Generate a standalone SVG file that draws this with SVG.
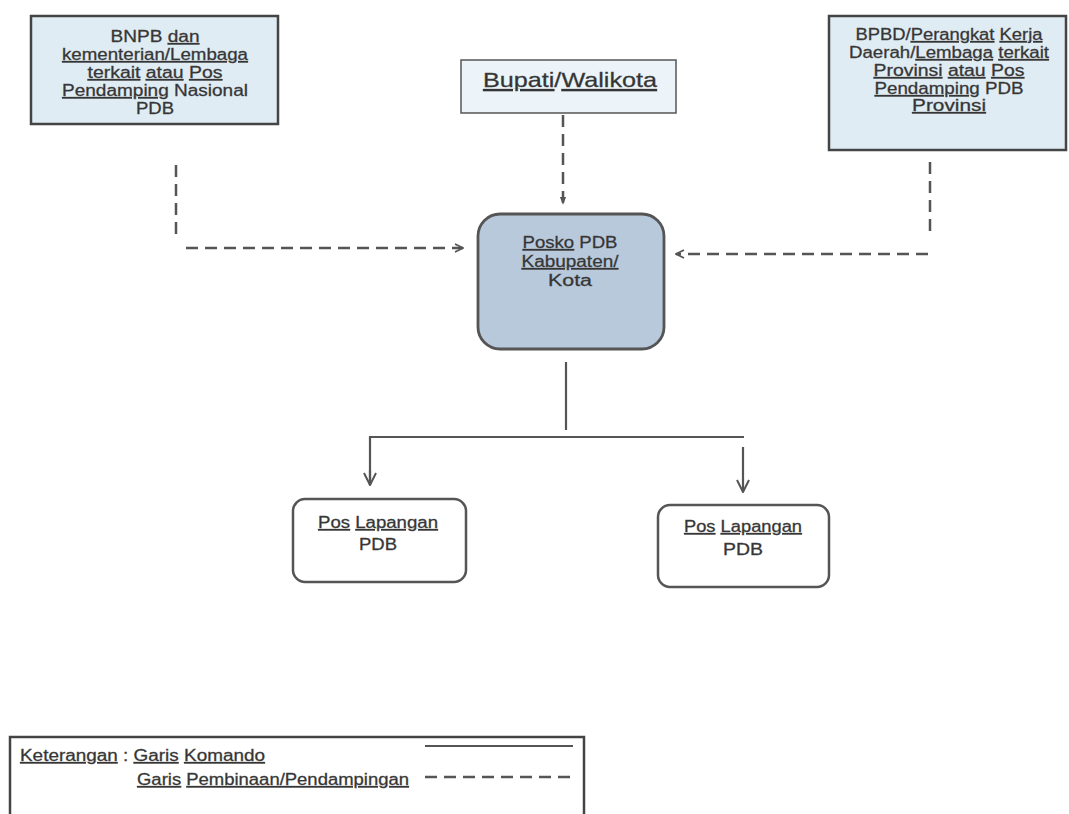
<svg xmlns="http://www.w3.org/2000/svg" width="1069" height="814" viewBox="0 0 1069 814">
<defs>
<style>
text{font-family:"Liberation Sans",Arial,sans-serif;fill:#333;stroke:#444;stroke-width:0.3;text-anchor:middle;font-size:16px}
.u{text-decoration:underline}
.bx{fill:#e0ecf3;stroke:#444;stroke-width:2.5}
.rb{fill:#fff;stroke:#555;stroke-width:2.5}
.d{fill:none;stroke:#555;stroke-width:2.5;stroke-dasharray:12 7}
.s{fill:none;stroke:#555;stroke-width:2.2}
</style>
<marker id="chev" viewBox="0 0 10 10" refX="9" refY="5" markerWidth="10" markerHeight="10" markerUnits="userSpaceOnUse" orient="auto">
<path d="M1,1 L9,5 L1,9" fill="none" stroke="#555" stroke-width="1.8"/>
</marker>
<marker id="tri" viewBox="0 0 10 10" refX="9" refY="5" markerWidth="8" markerHeight="8" markerUnits="userSpaceOnUse" orient="auto">
<path d="M0,1 L10,5 L0,9 Z" fill="#555"/>
</marker>
<marker id="chev2" viewBox="0 0 14 14" refX="13" refY="7" markerWidth="14" markerHeight="14" markerUnits="userSpaceOnUse" orient="auto">
<path d="M1,1 L13,7 L1,13" fill="none" stroke="#555" stroke-width="2"/>
</marker>
</defs>
<rect width="1069" height="814" fill="#fff"/>

<g id="connectors">
<path class="d" d="M176,165 V236"/>
<path class="d" d="M186,248 H463" marker-end="url(#chev)"/>
<path class="d" d="M563,115 V204" stroke-dasharray="11 8" marker-end="url(#tri)"/>
<path class="d" d="M930,162 V234"/>
<path class="d" d="M928,254 H676" marker-end="url(#chev)"/>
<path class="s" d="M566,362 V430"/>
<path class="s" d="M370,485 V437 H744"/>
<path class="s" d="M370,470 V485" marker-end="url(#chev2)"/>
<path class="s" d="M743,447 V492" marker-end="url(#chev2)"/>
</g>

<g id="node-bnpb">
<rect class="bx" x="31" y="16" width="247" height="108"/>
<text x="155" y="42" textLength="89" lengthAdjust="spacingAndGlyphs">BNPB <tspan class="u">dan</tspan></text>
<text x="155" y="60" textLength="186" lengthAdjust="spacingAndGlyphs"><tspan class="u">kementerian/Lembaga</tspan></text>
<text x="155" y="78" textLength="135" lengthAdjust="spacingAndGlyphs"><tspan class="u">terkait</tspan> <tspan class="u">atau</tspan> <tspan class="u">Pos</tspan></text>
<text x="155" y="96" textLength="186" lengthAdjust="spacingAndGlyphs"><tspan class="u">Pendamping</tspan> Nasional</text>
<text x="155" y="114" textLength="38" lengthAdjust="spacingAndGlyphs">PDB</text>
</g>

<g id="node-bupati">
<rect x="461" y="60" width="215" height="53" fill="#ecf4f9" stroke="#555" stroke-width="1.5"/>
<text x="570" y="87" style="font-size:21px" textLength="174" lengthAdjust="spacingAndGlyphs"><tspan class="u">Bupati</tspan>/<tspan class="u">Walikota</tspan></text>
</g>

<g id="node-bpbd">
<rect class="bx" x="829" y="16" width="237" height="134"/>
<text x="949" y="40" textLength="187" lengthAdjust="spacingAndGlyphs">BPBD/<tspan class="u">Perangkat</tspan> <tspan class="u">Kerja</tspan></text>
<text x="949" y="58" textLength="200" lengthAdjust="spacingAndGlyphs">Daerah/<tspan class="u">Lembaga</tspan> <tspan class="u">terkait</tspan></text>
<text x="949" y="76" textLength="151" lengthAdjust="spacingAndGlyphs"><tspan class="u">Provinsi</tspan> <tspan class="u">atau</tspan> <tspan class="u">Pos</tspan></text>
<text x="949" y="94" textLength="149" lengthAdjust="spacingAndGlyphs"><tspan class="u">Pendamping</tspan> PDB</text>
<text x="949" y="111" textLength="74" lengthAdjust="spacingAndGlyphs"><tspan class="u">Provinsi</tspan></text>
</g>

<g id="node-posko">
<rect x="478" y="214" width="186" height="135" rx="22" fill="#b9c9dc" stroke="#555" stroke-width="2.8"/>
<text x="570" y="248" textLength="95" lengthAdjust="spacingAndGlyphs"><tspan class="u">Posko</tspan> PDB</text>
<text x="570" y="267" textLength="97" lengthAdjust="spacingAndGlyphs"><tspan class="u">Kabupaten/</tspan></text>
<text x="570" y="286" textLength="44" lengthAdjust="spacingAndGlyphs">Kota</text>
</g>

<g id="node-pos1">
<rect class="rb" x="293" y="499" width="173" height="83" rx="12"/>
<text x="378" y="528" textLength="120" lengthAdjust="spacingAndGlyphs"><tspan class="u">Pos</tspan> <tspan class="u">Lapangan</tspan></text>
<text x="378" y="550" textLength="38" lengthAdjust="spacingAndGlyphs">PDB</text>
</g>

<g id="node-pos2">
<rect class="rb" x="658" y="505" width="171" height="82" rx="12"/>
<text x="743" y="532" textLength="118" lengthAdjust="spacingAndGlyphs"><tspan class="u">Pos</tspan> <tspan class="u">Lapangan</tspan></text>
<text x="743" y="555" textLength="40" lengthAdjust="spacingAndGlyphs">PDB</text>
</g>

<g id="legend">
<path d="M10,814 V737 H584 V814" fill="none" stroke="#444" stroke-width="2.5"/>
<text x="20" y="761" style="text-anchor:start" textLength="245" lengthAdjust="spacingAndGlyphs"><tspan class="u">Keterangan</tspan> : <tspan class="u">Garis</tspan> <tspan class="u">Komando</tspan></text>
<text x="137" y="785" style="text-anchor:start" textLength="272" lengthAdjust="spacingAndGlyphs"><tspan class="u">Garis</tspan> <tspan class="u">Pembinaan/Pendampingan</tspan></text>
<path class="s" d="M425,746 H573"/>
<path class="d" d="M425,777 H573" stroke-dasharray="11 6"/>
</g>
</svg>
